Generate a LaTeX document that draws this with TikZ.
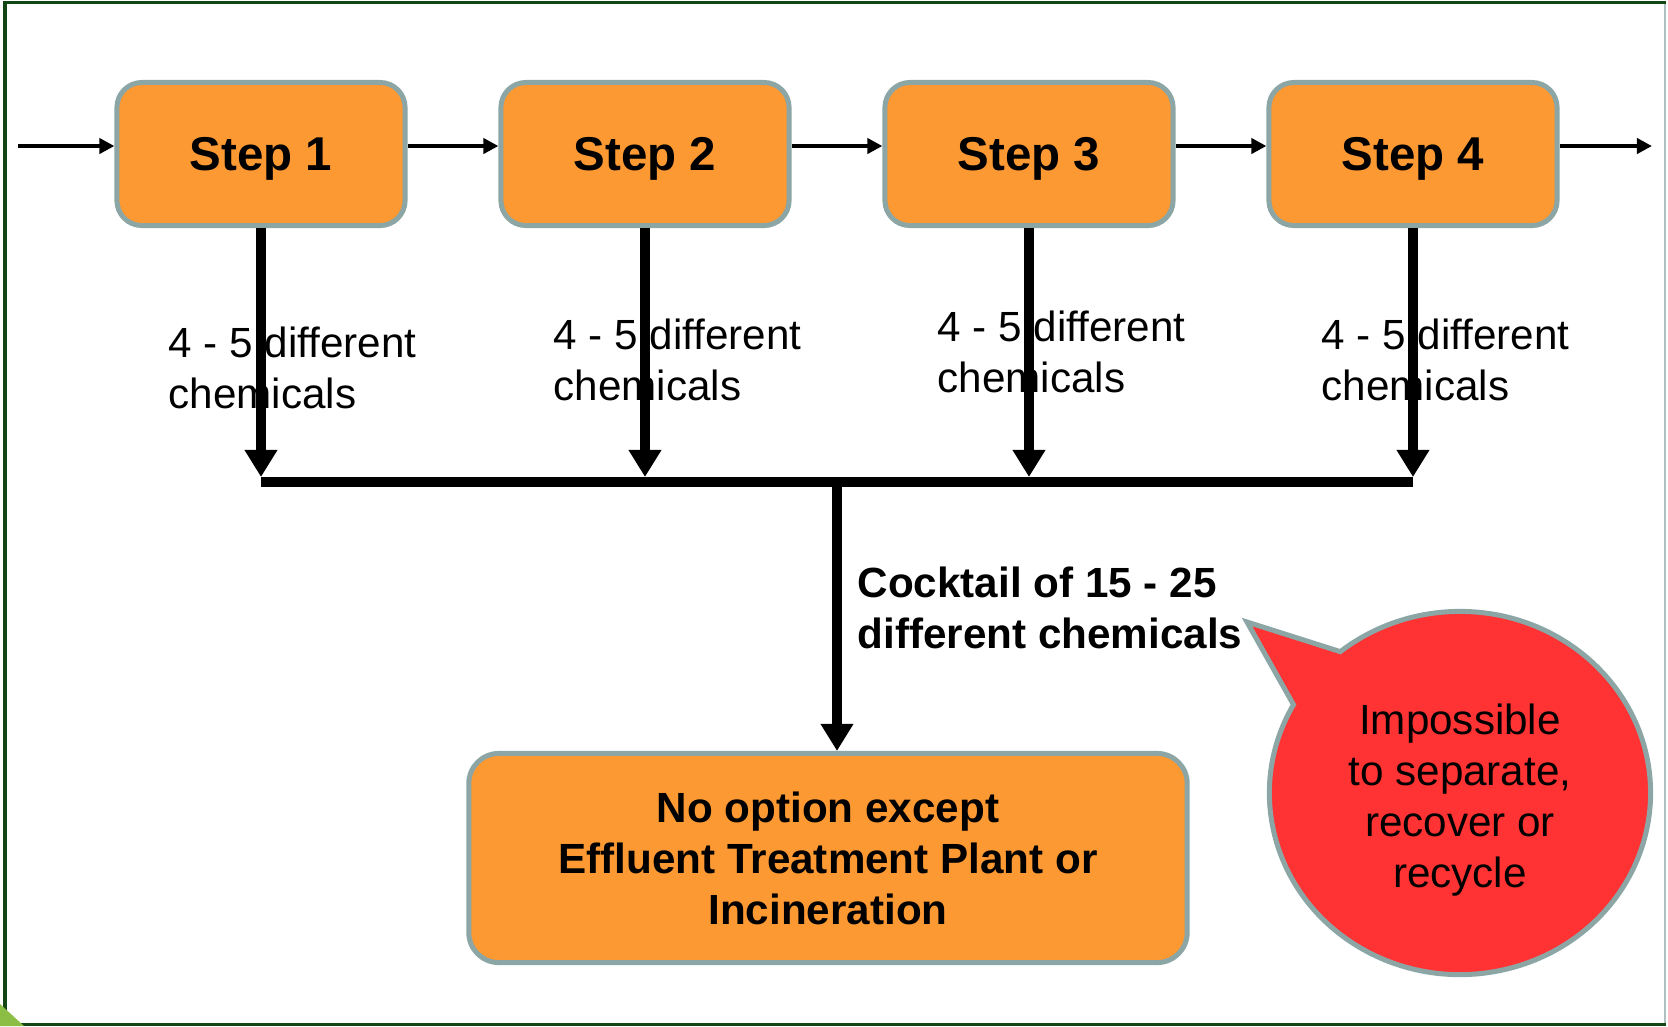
\documentclass[tikz,border=0pt]{standalone}
\usepackage{fontspec}
\setmainfont{Liberation Sans}
\usetikzlibrary{arrows.meta,shapes.callouts}

\definecolor{steporange}{RGB}{253,153,51}
\definecolor{boxedge}{RGB}{140,165,165}
\definecolor{bubblered}{RGB}{255,51,51}
\definecolor{framegreen}{RGB}{20,70,20}
\definecolor{cornergreen}{RGB}{140,190,70}

\tikzset{
  stepbox/.style={draw=boxedge, fill=steporange, line width=0.05cm,
    rounded corners=0.25cm, minimum width=2.88cm, minimum height=1.43cm,
    text depth=0pt, font=\fontsize{13.5}{16}\selectfont\bfseries},
  flowarrow/.style={-{Triangle[length=0.15cm,width=0.15cm]}, line width=0.04cm},
  chemarrow/.style={-{Triangle[length=0.27cm,width=0.31cm]}, line width=0.1cm},
  chemlabel/.style={anchor=west, inner sep=0pt, align=left,
    font=\fontsize{12}{14.5}\selectfont}
}

\begin{document}
\begin{tikzpicture}[x=0.01cm,y=-0.01cm]

% Fix the page to the slide size
\useasboundingbox (0,0) rectangle (1668,1026);

% Slide frame
\draw[boxedge!70, line width=0.015cm] (1665,2) -- (1665,1024);
\draw[framegreen, line width=0.03cm] (1666,2) -- (5,2) -- (5,1024) -- (1666,1024);
\fill[cornergreen] (0,1004) -- (24,1026) -- (0,1026) -- cycle;

% Process steps
\node[stepbox] (s1) at (261,154) {Step 1};
\node[stepbox] (s2) at (645,154) {Step 2};
\node[stepbox] (s3) at (1029,154) {Step 3};
\node[stepbox] (s4) at (1413,154) {Step 4};

% Main flow through the steps
\coordinate (feed) at (18,146);
\coordinate (exit) at (1652,146);
\draw[flowarrow] (feed) -- (feed -| s1.west);
\draw[flowarrow] (feed -| s1.east) -- (feed -| s2.west);
\draw[flowarrow] (feed -| s2.east) -- (feed -| s3.west);
\draw[flowarrow] (feed -| s3.east) -- (feed -| s4.west);
\draw[flowarrow] (feed -| s4.east) -- (exit);

% Collecting bar
\coordinate (bar) at (0,482);
\coordinate (b1) at (s1.south |- bar);
\coordinate (b4) at (s4.south |- bar);
\coordinate (bm) at (837,482);
\draw[line width=0.1cm] (b1) -- (b4);

% Chemicals leaving each step
\draw[chemarrow,shorten >=0.05cm] (s1.south) -- (b1);
\draw[chemarrow,shorten >=0.05cm] (s2.south) -- (s2.south |- bar);
\draw[chemarrow,shorten >=0.05cm] (s3.south) -- (s3.south |- bar);
\draw[chemarrow,shorten >=0.05cm] (s4.south) -- (b4);

\node[chemlabel] (c1) at (168,368) {4 - 5 different\\chemicals};
\node[chemlabel] (c2) at (553,360) {4 - 5 different\\chemicals};
\node[chemlabel] (c3) at (937,352) {4 - 5 different\\chemicals};
\node[chemlabel] (c4) at (1321,360) {4 - 5 different\\chemicals};

% End of the line
\node[stepbox, minimum width=7.18cm, minimum height=2.09cm, rounded corners=0.3cm,
  align=center, font=\fontsize{12}{14.5}\selectfont\bfseries] (etp) at (828,858)
  {No option except\\Effluent Treatment Plant or\\Incineration};
\draw[chemarrow] (bm) -- (bm |- etp.north);
\node[chemlabel, font=\fontsize{12}{14.5}\selectfont\bfseries] (mix) at (857,608)
  {Cocktail of 15 - 25\\different chemicals};

% Remark bubble, text set on top of it
\node[ellipse callout, draw=boxedge, fill=bubblered, line width=0.05cm,
  minimum width=3.81cm, minimum height=3.63cm, callout pointer arc=22,
  callout absolute pointer={(1247,622)}] (remark) at (1460,793) {};
\node[align=center, font=\fontsize{12}{14.5}\selectfont] (remarktext) at (1460,800)
  {Impossible\\to separate,\\recover or\\recycle};
\end{tikzpicture}
\end{document}
